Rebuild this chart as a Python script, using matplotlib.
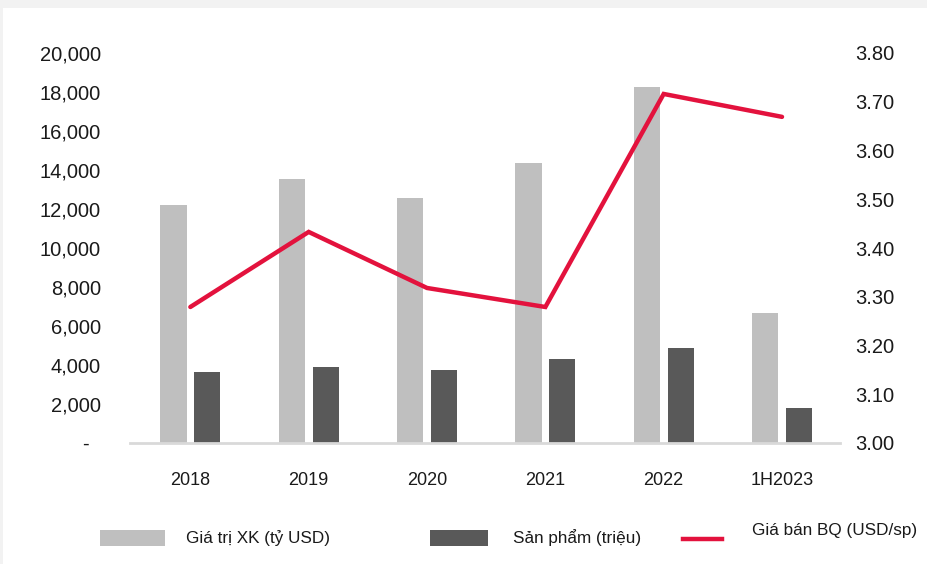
import matplotlib
matplotlib.use('Agg')
import matplotlib.pyplot as plt
from matplotlib.patches import Rectangle
from matplotlib.lines import Line2D
import numpy as np

# dữ liệu
years = ['2018', '2019', '2020', '2021', '2022', '1H2023']
gia_tri_xk = [12200, 13550, 12560, 14360, 18260, 6670]   # tỷ USD
san_pham = [3640, 3900, 3740, 4310, 4870, 1790]          # triệu
gia_ban_bq = [3.279, 3.433, 3.318, 3.279, 3.716, 3.669]  # USD/sp

left_ticks = [0, 2000, 4000, 6000, 8000, 10000, 12000, 14000, 16000, 18000, 20000]
right_ticks = [3.00, 3.10, 3.20, 3.30, 3.40, 3.50, 3.60, 3.70, 3.80]

plt.rcParams['font.family'] = ['Liberation Sans', 'DejaVu Sans']

C_LIGHT = '#bfbfbf'
C_DARK = '#595959'
C_RED = '#e3123d'
C_TEXT = '#1a1a1a'

fig = plt.figure(figsize=(9.27, 5.64), dpi=100, facecolor='#f2f2f2')
fig.patches.append(Rectangle((3 / 927, 0), 1, 1 - 8 / 564, transform=fig.transFigure,
                             facecolor='white', edgecolor='none', zorder=-10))

ax1 = fig.add_axes([130 / 927, 1 - 443 / 564, 710 / 927, 390 / 564])
ax1.patch.set_alpha(0)
x = np.arange(len(years))
w = 0.22
ax1.bar(x - 0.1425, gia_tri_xk, width=w, color=C_LIGHT, zorder=2)
ax1.bar(x + 0.1425, san_pham, width=w, color=C_DARK, zorder=2)
ax1.set_xlim(-0.51, 5.49)
ax1.set_ylim(0, 20000)
ax1.set_yticks(left_ticks)
ax1.set_yticklabels(['-  '] + [f'{v:,}' for v in left_ticks[1:]], fontsize=14.5, color=C_TEXT)
ax1.set_xticks(x)
ax1.set_xticklabels(years, fontsize=13, color=C_TEXT)
ax1.tick_params(axis='y', length=0, pad=21)
ax1.tick_params(axis='x', length=0, pad=21)
for s in ['top', 'right', 'left']:
    ax1.spines[s].set_visible(False)
ax1.spines['bottom'].set_color('#d9d9d9')
ax1.spines['bottom'].set_linewidth(2)
ax1.spines['bottom'].set_zorder(3)

ax2 = ax1.twinx()
ax2.plot(x, gia_ban_bq, color=C_RED, linewidth=3.2, solid_capstyle='round',
         solid_joinstyle='miter', zorder=4)
ax2.set_ylim(3.0, 3.8)
ax2.set_yticks(right_ticks)
ax2.set_yticklabels([f'{v:.2f}' for v in right_ticks], fontsize=14.5, color=C_TEXT)
ax2.tick_params(axis='y', length=0, pad=11)
for s in ['top', 'right', 'left', 'bottom']:
    ax2.spines[s].set_visible(False)

# chú thích
def px(xp, yp):
    return xp / 927, 1 - yp / 564

fig.patches.append(Rectangle(px(100, 546), 65 / 927, 16 / 564, transform=fig.transFigure,
                             facecolor=C_LIGHT, edgecolor='none'))
fig.text(*px(186, 538), 'Giá trị XK (tỷ USD)', fontsize=12.3,
         va='center', ha='left', color=C_TEXT)
fig.patches.append(Rectangle(px(430, 546), 58 / 927, 16 / 564, transform=fig.transFigure,
                             facecolor=C_DARK, edgecolor='none'))
fig.text(*px(513, 538), 'Sản phẩm (triệu)', fontsize=12.3,
         va='center', ha='left', color=C_TEXT)
fig.lines.append(Line2D([683 / 927, 722 / 927], [1 - 539 / 564, 1 - 539 / 564],
                        transform=fig.transFigure, color=C_RED, linewidth=3.2))
fig.text(*px(752, 530), 'Giá bán BQ (USD/sp)', fontsize=12.3,
         va='center', ha='left', color=C_TEXT)

fig.savefig('out.png', dpi=100, facecolor=fig.get_facecolor())
